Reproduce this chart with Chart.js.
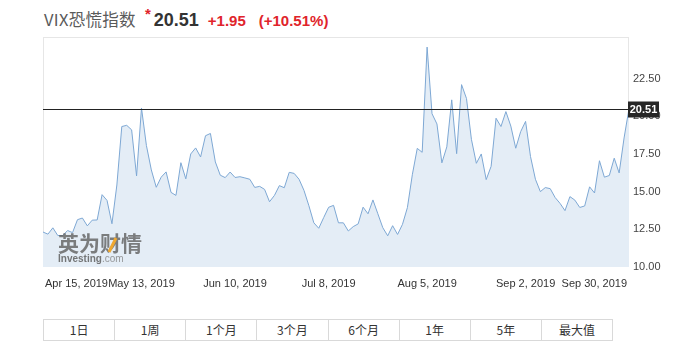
<!DOCTYPE html>
<html>
<head>
<meta charset="utf-8">
<script src="https://cdn.jsdelivr.net/npm/chart.js@4.4.1/dist/chart.umd.min.js"></script>
<style>
  body { margin: 0; background: #fff; font-family: "Liberation Sans", Arial, sans-serif; }
  #wrap { position: relative; width: 700px; height: 359px; overflow: hidden; }
  #title { position: absolute; left: 44px; top: 6px; line-height: 26px; white-space: nowrap; }
  #title .name { font-family: "Noto Sans CJK SC", sans-serif; font-size: 16.5px; color: #5a5a5a; letter-spacing: 0.3px; }
  #title .star { color: #e0242b; font-weight: bold; font-size: 15px; position: relative; top: -7px; margin: 0 3px 0 9px; }
  #title .last { font-weight: bold; font-size: 18px; color: #333; }
  #title .chg { font-weight: bold; font-size: 15px; color: #e0242b; margin-left: 9px; }
  #title .pct { font-weight: bold; font-size: 15px; color: #e0242b; margin-left: 13px; }
  canvas { position: absolute; left: 0; top: 0; }
  #ranges { position: absolute; left: 43px; top: 319px; width: 570px; height: 22px; display: flex;
            border: 1px solid #d9d9d9; box-sizing: border-box; }
  #ranges div { flex: 1; text-align: center; line-height: 20px; font-size: 12px; color: #333;
                font-family: "Noto Sans CJK SC", sans-serif; border-left: 1px solid #d9d9d9; }
  #ranges div:first-child { border-left: none; }
</style>
</head>
<body>
<div id="wrap">
  <div id="title"><span class="name">VIX恐慌指数</span><span class="star">*</span><span class="last">20.51</span><span class="chg">+1.95</span><span class="pct">(+10.51%)</span></div>
  <canvas id="vixChart" width="700" height="300"></canvas>
  <div id="ranges"></div>
</div>
<script>
// trading days, Apr 15 - Oct 2, 2019
const days = [
  "Apr 15","Apr 16","Apr 17","Apr 18","Apr 19","Apr 22","Apr 23","Apr 24","Apr 25","Apr 26","Apr 29","Apr 30",
  "May 1","May 2","May 3","May 6","May 7","May 8","May 9","May 10","May 13","May 14","May 15","May 16","May 17",
  "May 20","May 21","May 22","May 23","May 24","May 28","May 29","May 30","May 31",
  "Jun 3","Jun 4","Jun 5","Jun 6","Jun 7","Jun 10","Jun 11","Jun 12","Jun 13","Jun 14","Jun 17","Jun 18","Jun 19",
  "Jun 20","Jun 21","Jun 24","Jun 25","Jun 26","Jun 27","Jun 28",
  "Jul 1","Jul 2","Jul 3","Jul 5","Jul 8","Jul 9","Jul 10","Jul 11","Jul 12","Jul 15","Jul 16","Jul 17","Jul 18",
  "Jul 19","Jul 22","Jul 23","Jul 24","Jul 25","Jul 26","Jul 29","Jul 30","Jul 31",
  "Aug 1","Aug 2","Aug 5","Aug 6","Aug 7","Aug 8","Aug 9","Aug 12","Aug 13","Aug 14","Aug 15","Aug 16","Aug 19",
  "Aug 20","Aug 21","Aug 22","Aug 23","Aug 26","Aug 27","Aug 28","Aug 29","Aug 30",
  "Sep 3","Sep 4","Sep 5","Sep 6","Sep 9","Sep 10","Sep 11","Sep 12","Sep 13","Sep 16","Sep 17","Sep 18","Sep 19",
  "Sep 20","Sep 23","Sep 24","Sep 25","Sep 26","Sep 27","Sep 30",
  "Oct 1","Oct 2"
];

const vix = [
  12.32,12.18,12.60,12.09,12.09,12.42,12.28,13.14,13.25,12.73,13.11,13.12,
  14.80,14.42,12.87,15.44,19.32,19.40,19.10,16.04,20.55,18.06,16.44,15.29,15.96,
  16.31,14.95,14.75,16.92,15.85,17.50,17.90,17.30,18.71,
  18.86,16.97,16.09,15.93,16.30,15.94,15.99,15.91,15.82,15.28,15.35,15.15,14.33,
  14.75,15.40,15.26,16.28,16.21,15.82,15.08,
  14.06,12.93,12.57,13.28,13.96,14.09,12.93,12.93,12.39,12.68,12.86,13.97,13.53,
  14.45,13.53,12.61,12.07,12.74,12.16,12.83,13.94,16.12,
  17.87,17.61,24.59,20.17,19.49,16.91,17.97,21.09,17.52,22.10,21.18,18.47,16.88,
  17.50,15.80,16.68,19.87,19.32,20.31,19.35,17.88,18.98,
  19.66,17.33,15.82,15.00,15.27,15.20,14.61,14.22,13.74,14.67,14.44,13.95,14.05,
  15.32,14.91,17.05,15.96,16.07,17.22,16.24,
  18.56,20.51
];

// x-axis tick labels and the trading day each sits on
const tickDays = ["Apr 15","May 13","Jun 10","Jul 8","Aug 5","Sep 3","Sep 30"];
const tickLabels = ["Apr 15, 2019","May 13, 2019","Jun 10, 2019","Jul 8, 2019","Aug 5, 2019","Sep 2, 2019","Sep 30, 2019"];

const ranges = ["1日","1周","1个月","3个月","6个月","1年","5年","最大值"];

ranges.forEach(r => {
  const d = document.createElement("div");
  d.textContent = r;
  document.getElementById("ranges").appendChild(d);
});

const extras = {
  id: "extras",
  beforeDatasetsDraw(chart) {
    const { ctx, chartArea: a } = chart;
    ctx.save();
    ctx.strokeStyle = "#e6e6e6";
    ctx.lineWidth = 1;
    ctx.strokeRect(a.left + 0.5, a.top + 0.5, a.right - a.left - 1, a.bottom - a.top - 1);
    ctx.restore();
  },
  afterDatasetsDraw(chart) {
    const { ctx, chartArea: a, scales } = chart;
    ctx.save();
    // watermark
    ctx.fillStyle = "rgba(95,95,95,0.8)";
    ctx.font = "bold 21px 'Noto Sans CJK SC'";
    ctx.textBaseline = "alphabetic";
    ctx.fillText("英为财情", 58, 251);
    ctx.strokeStyle = "#f0a830";
    ctx.lineWidth = 3;
    ctx.beginPath();
    ctx.moveTo(109, 252);
    ctx.lineTo(116, 238);
    ctx.stroke();
    ctx.font = "bold 10px 'Liberation Sans'";
    ctx.fillStyle = "rgba(95,95,95,0.85)";
    ctx.fillText("Investing", 58, 262);
    const w = ctx.measureText("Investing").width;
    ctx.font = "10px 'Liberation Sans'";
    ctx.fillStyle = "rgba(130,130,130,0.8)";
    ctx.fillText(".com", 58 + w, 262);

    // last value line + tag
    const last = vix[vix.length - 1];
    const y = Math.round(scales.y.getPixelForValue(last)) + 0.5;
    ctx.strokeStyle = "#222";
    ctx.lineWidth = 1;
    ctx.beginPath();
    ctx.moveTo(a.left, y);
    ctx.lineTo(a.right, y);
    ctx.stroke();
    ctx.fillStyle = "#262626";
    ctx.fillRect(a.right - 1, y - 8, 31, 16);
    ctx.fillStyle = "#fff";
    ctx.font = "bold 11px 'Liberation Sans'";
    ctx.textAlign = "center";
    ctx.textBaseline = "middle";
    ctx.fillText(last.toFixed(2), a.right + 14.5, y);

    // x labels, kept inside the plot width
    ctx.fillStyle = "#333";
    ctx.font = "11px 'Liberation Sans'";
    ctx.textAlign = "left";
    tickDays.forEach((d, i) => {
      const x = scales.x.getPixelForValue(days.indexOf(d));
      const tw = ctx.measureText(tickLabels[i]).width;
      let left = x - tw / 2;
      left = Math.max(a.left + 2, Math.min(a.right - 2 - tw, left));
      ctx.fillText(tickLabels[i], left, a.bottom + 17);
    });
    ctx.restore();
  }
};

new Chart(document.getElementById("vixChart"), {
  type: "line",
  data: {
    labels: days,
    datasets: [
      {
        data: vix,
        borderColor: "#7ea8d4",
        backgroundColor: "#e4edf6",
        borderWidth: 1,
        fill: "start",
        pointRadius: 0,
        tension: 0,
      },
    ],
  },
  options: {
    responsive: false,
    animation: false,
    layout: { padding: { left: 43, top: 37, right: 0, bottom: 33 } },
    plugins: { legend: { display: false }, tooltip: { enabled: false } },
    scales: {
      x: { display: false },
      y: {
        position: "right",
        min: 10,
        max: 25.26,
        grid: { display: false, drawTicks: false },
        border: { display: false },
        afterFit: (s) => { s.width = 71; },
        ticks: {
          stepSize: 2.5,
          includeBounds: false,
          padding: 4,
          color: "#444",
          font: { family: "Liberation Sans", size: 11 },
          callback: (v) => (v > 23 ? "" : v.toFixed(2)),
        },
      },
    },
  },
  plugins: [extras],
});
</script>
</body>
</html>
